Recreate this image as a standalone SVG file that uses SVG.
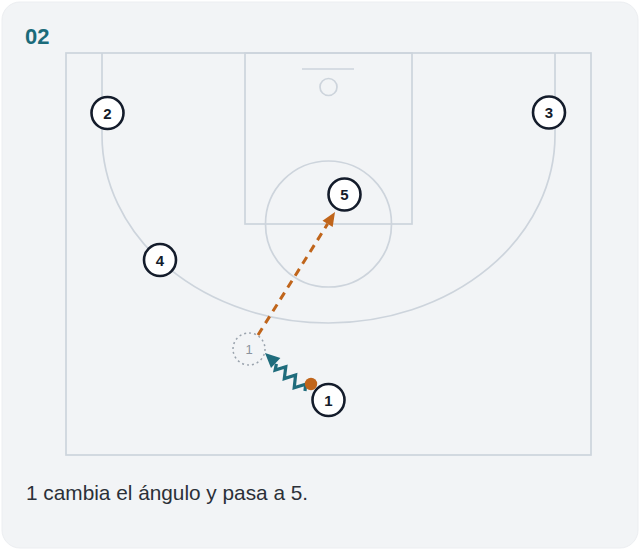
<svg xmlns="http://www.w3.org/2000/svg" width="641" height="554" viewBox="0 0 641 554">
<style>
.court{fill:none;stroke:#cdd4dc;stroke-width:1.7}
.player circle{fill:#ffffff;stroke:#141c2b;stroke-width:2.6}
.player text{font-family:"Liberation Sans",Arial,sans-serif;font-size:15px;font-weight:bold;fill:#141c2b;text-anchor:middle}
.ghost circle{fill:none;stroke:#9aa3ad;stroke-width:1.5;stroke-dasharray:2 3}
.ghost text{font-family:"Liberation Sans",Arial,sans-serif;font-size:13px;fill:#8a939d;text-anchor:middle}
.pass{fill:none;stroke:#c0651b;stroke-width:3;stroke-dasharray:8 6}
.dribble{fill:none;stroke:#1f6c7c;stroke-width:3.2;stroke-linejoin:miter}
</style>
<rect x="0" y="0" width="641" height="554" fill="#ffffff"/>
<rect x="2" y="2" width="636" height="546" rx="18" fill="#f2f4f6" stroke="#eceef1" stroke-width="1"/>
<text x="25" y="44" font-family="'Liberation Sans',Arial,sans-serif" font-size="22" font-weight="bold" fill="#1b6b7a">02</text>
<g id="court">
<rect class="court" x="66" y="53" width="525" height="402"/>
<rect class="court" x="245" y="53" width="167" height="171"/>
<circle class="court" cx="328.5" cy="224" r="63"/>
<line class="court" x1="302" y1="69" x2="354" y2="69"/>
<circle class="court" cx="328.5" cy="87" r="8.5"/>
<path class="court" d="M102 53 L102 135 A226.5 188 0 0 0 555 135 L555 53"/>
</g>
<g id="connectors">
<line class="pass" x1="258" y1="335" x2="327.6" y2="223.9"/>
<polygon points="335,212 332.7,227.1 322.5,220.7" fill="#c0651b"/>
<polyline class="dribble" points="305,391 305.6,384.3 294.2,387.8 295.6,375.0 284.3,378.6 285.8,366.8 275.1,370.1 276.4,363.9"/>
<polygon points="265,353 280.4,358.0 271.0,368.0" fill="#1f6c7c"/>
</g>
<g id="ghost-1" class="ghost">
<circle cx="249" cy="349" r="16"/>
<text x="249" y="353.5">1</text>
</g>
<g id="ball">
<circle cx="311" cy="384" r="6.2" fill="#c0651b"/>
</g>
<g id="player-1" class="player"><circle cx="328.5" cy="400" r="16"/><text x="328.5" y="405.5">1</text></g>
<g id="player-2" class="player"><circle cx="107.5" cy="113" r="16"/><text x="107.5" y="118.5">2</text></g>
<g id="player-3" class="player"><circle cx="549" cy="112.5" r="16"/><text x="549" y="118">3</text></g>
<g id="player-4" class="player"><circle cx="160" cy="260" r="16"/><text x="160" y="265.5">4</text></g>
<g id="player-5" class="player"><circle cx="344.5" cy="194.5" r="16"/><text x="344.5" y="200">5</text></g>
<text x="26" y="500" font-family="'Liberation Sans',Arial,sans-serif" font-size="20.8" fill="#2b3038">1 cambia el ángulo y pasa a 5.</text>
</svg>
